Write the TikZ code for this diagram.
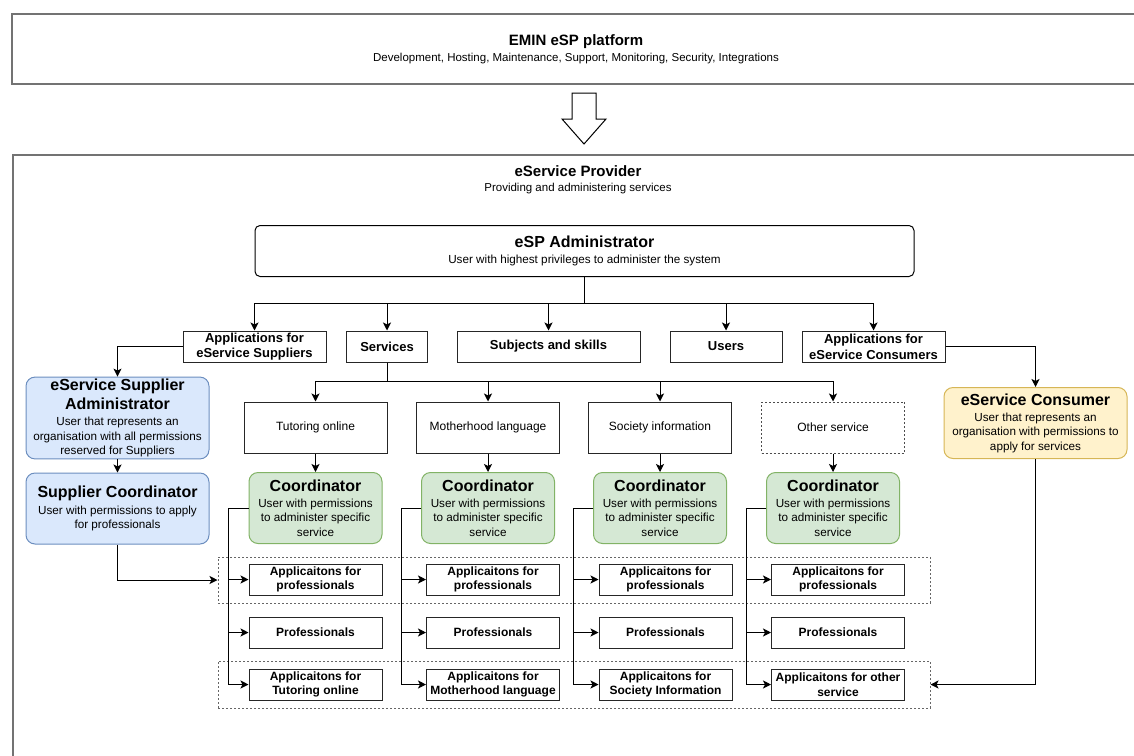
\documentclass[tikz,border=0pt]{standalone}
\usepackage{fontspec}
\setmainfont{Liberation Sans}
\usetikzlibrary{arrows.meta}
\definecolor{supfill}{HTML}{DAE8FC}
\definecolor{supline}{HTML}{6C8EBF}
\definecolor{coofill}{HTML}{D5E8D4}
\definecolor{cooline}{HTML}{82B366}
\definecolor{confill}{HTML}{FFF2CC}
\definecolor{conline}{HTML}{D6B656}
\newcommand{\ttl}{\fontsize{16}{19}\selectfont\bfseries}
\newcommand{\subfont}{\fontsize{11.7}{14.3}\selectfont}
\tikzset{
  framebox/.style={draw=black!55,line width=1.5pt},
  tabbox/.style={draw=black!85,align=center,font=\fontsize{13}{15.7}\selectfont\bfseries,minimum height=31pt,inner sep=1pt},
  svcbox/.style={draw=black!85,align=center,font=\fontsize{12}{14}\selectfont,minimum width=143pt,minimum height=51pt},
  itembox/.style={draw=black!85,align=center,font=\fontsize{12}{14.7}\selectfont\bfseries,minimum width=133pt,minimum height=31pt,inner sep=1pt},
  rolebox/.style={draw,rounded corners=9pt,align=center,font=\subfont,inner sep=2pt},
  coordbox/.style={rolebox,fill=coofill,draw=cooline,minimum width=133pt,minimum height=71pt},
  groupbox/.style={draw=black!60,dash pattern=on 2pt off 2pt,minimum width=712pt},
  dotbox/.style={draw=black!70,dash pattern=on 2pt off 2pt}
}
\begin{document}
\begin{tikzpicture}[x=1pt,y=-1pt,line width=1pt,>={Stealth[length=8pt,width=8pt,inset=2pt]}]
    \useasboundingbox (0,0) rectangle (1134,755);
    \node[framebox,minimum width=1128pt,minimum height=70pt,align=center,font=\fontsize{11.5}{16}\selectfont] (platform) at (576,49)
        {{\fontsize{15}{17}\selectfont\bfseries EMIN eSP platform}\\Development, Hosting, Maintenance, Support, Monitoring, Security, Integrations};
    \draw[line width=1pt] (572,93) -- (596,93) -- (596,119) -- (606,119) -- (584,144) -- (562,119) -- (572,119) -- cycle;
    \node[framebox,anchor=north west,minimum width=1140pt,minimum height=620pt] (provider) at (12,154) {};
    \node[align=center,font=\fontsize{11.5}{15}\selectfont] (providertxt) at (578,179.5)
        {{\fontsize{15}{17}\selectfont\bfseries eService Provider}\\Providing and administering services};

    \node[draw,rounded corners=5pt,minimum width=659pt,minimum height=51pt,align=center,font=\subfont] (admin) at (584.5,251)
        {{\ttl eSP Administrator}\\[1pt]User with highest privileges to administer the system};

    \node[tabbox,minimum width=143pt] (appsup) at (254.5,346.5) {Applications for\\eService Suppliers};
    \node[tabbox,minimum width=81pt] (services) at (387,346.5) {Services};
    \node[tabbox,minimum width=183pt] (subjects) at (548.5,346.5) {Subjects and skills};
    \node[tabbox,minimum width=112pt] (users) at (726,346.5) {Users};
    \node[tabbox,minimum width=143pt] (appcon) at (873.5,346.5) {Applications for\\eService Consumers};

    \coordinate (adminbus) at (584.5,303);
    \draw[->] (admin.south) -- (adminbus) -| (appsup.north);
    \draw[->] (admin.south) -- (adminbus) -| (services.north);
    \draw[->] (admin.south) -- (adminbus) -| (subjects.north);
    \draw[->] (admin.south) -- (adminbus) -| (users.north);
    \draw[->] (admin.south) -- (adminbus) -| (appcon.north);

    \node[rolebox,fill=supfill,draw=supline,minimum width=183pt,minimum height=80pt] (supadmin) at (117.5,418)
        {{\ttl eService Supplier}\\[3pt]{\ttl Administrator}\\[2pt]User that represents an\\organisation with all permissions\\reserved for Suppliers};
    \node[rolebox,fill=supfill,draw=supline,minimum width=183pt,minimum height=71pt] (supcoord) at (117.5,508.5)
        {{\ttl Supplier Coordinator}\\[2pt]User with permissions to apply\\for professionals};
    \node[rolebox,fill=confill,draw=conline,minimum width=183pt,minimum height=71pt] (consumer) at (1035.5,423)
        {{\ttl eService Consumer}\\[2pt]User that represents an\\organisation with permissions to\\apply for services};

    \node[svcbox] (tutoring) at (315.5,427.5) {Tutoring online};
    \node[svcbox] (mother) at (488,427.5) {Motherhood language};
    \node[svcbox] (society) at (660,427.5) {Society information};
    \node[svcbox,dotbox] (other) at (833,427.5) {Other service};

    \coordinate (svcbus) at (387,381);
    \draw[->] (services.south) -- (svcbus) -| (tutoring.north);
    \draw[->] (services.south) -- (svcbus) -| (mother.north);
    \draw[->] (services.south) -- (svcbus) -| (society.north);
    \draw[->] (services.south) -- (svcbus) -| (other.north);

    \node[coordbox] (cootut) at (315.5,508) {{\ttl Coordinator}\\[2pt]User with permissions\\to administer specific\\service};
    \node[coordbox] (coomot) at (488,508) {{\ttl Coordinator}\\[2pt]User with permissions\\to administer specific\\service};
    \node[coordbox] (coosoc) at (660,508) {{\ttl Coordinator}\\[2pt]User with permissions\\to administer specific\\service};
    \node[coordbox] (coooth) at (833,508) {{\ttl Coordinator}\\[2pt]User with permissions\\to administer specific\\service};
    \draw[->] (tutoring) -- (cootut);
    \draw[->] (mother) -- (coomot);
    \draw[->] (society) -- (coosoc);
    \draw[->] (other) -- (coooth);

    \node[groupbox,minimum height=46pt] (grpa) at (574,580) {};
    \node[groupbox,minimum height=47pt] (grpb) at (574,684.5) {};

    \node[itembox] (aptut) at (315.5,579.5) {Applicaitons for\\professionals};
    \node[itembox] (protut) at (315.5,632.5) {Professionals};
    \node[itembox] (apptut) at (315.5,684.5) {Applicaitons for\\Tutoring online};
    \node[itembox] (apmot) at (493,579.5) {Applicaitons for\\professionals};
    \node[itembox] (promot) at (493,632.5) {Professionals};
    \node[itembox] (appmot) at (493,684.5) {Applicaitons for\\Motherhood language};
    \node[itembox] (apsoc) at (665.5,579.5) {Applicaitons for\\professionals};
    \node[itembox] (prosoc) at (665.5,632.5) {Professionals};
    \node[itembox] (appsoc) at (665.5,684.5) {Applicaitons for\\Society Information};
    \node[itembox] (apoth) at (838,579.5) {Applicaitons for\\professionals};
    \node[itembox] (prooth) at (838,632.5) {Professionals};
    \node[itembox] (appoth) at (838,684.5) {Applicaitons for other\\service};

    \draw[->] (cootut.west) -- ++(-20,0) |- (aptut.west);
    \draw[->] (cootut.west) -- ++(-20,0) |- (protut.west);
    \draw[->] (cootut.west) -- ++(-20,0) |- (apptut.west);
    \draw[->] (coomot.west) -- ++(-20,0) |- (apmot.west);
    \draw[->] (coomot.west) -- ++(-20,0) |- (promot.west);
    \draw[->] (coomot.west) -- ++(-20,0) |- (appmot.west);
    \draw[->] (coosoc.west) -- ++(-20,0) |- (apsoc.west);
    \draw[->] (coosoc.west) -- ++(-20,0) |- (prosoc.west);
    \draw[->] (coosoc.west) -- ++(-20,0) |- (appsoc.west);
    \draw[->] (coooth.west) -- ++(-20,0) |- (apoth.west);
    \draw[->] (coooth.west) -- ++(-20,0) |- (prooth.west);
    \draw[->] (coooth.west) -- ++(-20,0) |- (appoth.west);

    \draw[->] (appsup.west) -| (supadmin.north);
    \draw[->] (supadmin) -- (supcoord);
    \draw[->] (supcoord.south) |- (grpa.west);
    \draw[->] (appcon.east) -| (consumer.north);
    \draw[->] (consumer.south) |- (grpb.east);
\end{tikzpicture}
\end{document}
